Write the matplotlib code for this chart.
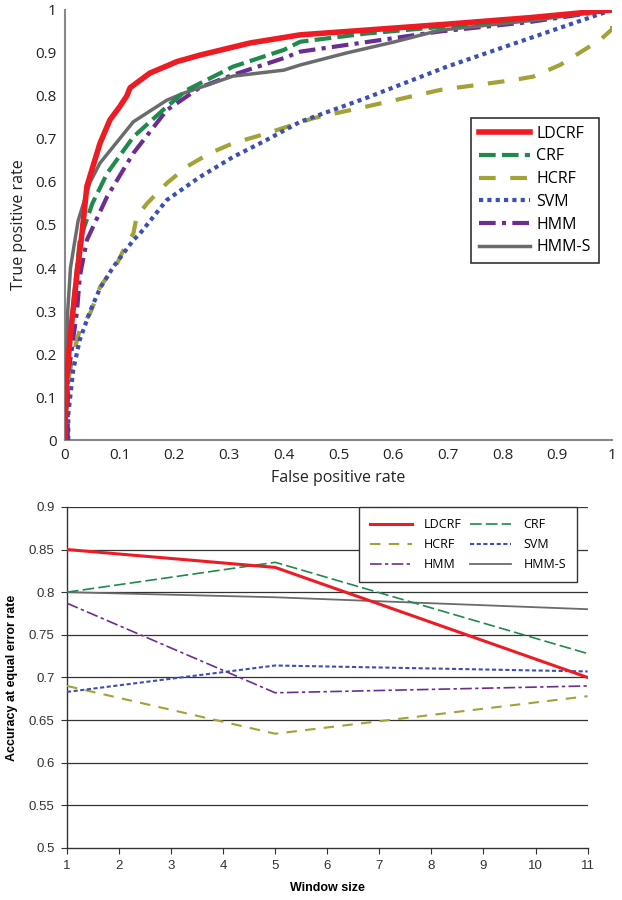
import numpy as np
import matplotlib
matplotlib.use("Agg")
from matplotlib import pyplot as plt
from matplotlib.ticker import MultipleLocator

# ROC curves (false positive rate, true positive rate)
ldcrf_fpr = [0, 0.0, 0.003, 0.009, 0.022, 0.031, 0.04, 0.064, 0.082, 0.1, 0.113, 0.119, 0.155, 0.205, 0.247, 0.338, 0.43, 0.55, 0.7, 0.85, 1.0]
ldcrf_tpr = [0, 0.02, 0.14, 0.233, 0.388, 0.48, 0.59, 0.69, 0.744, 0.775, 0.8, 0.819, 0.853, 0.88, 0.895, 0.923, 0.942, 0.953, 0.967, 0.982, 1.0]

crf_fpr = [0, 0.003, 0.01, 0.027, 0.05, 0.077, 0.125, 0.186, 0.223, 0.307, 0.4, 0.43, 0.55, 0.7, 0.85, 1.0]
crf_tpr = [0, 0.12, 0.25, 0.465, 0.55, 0.62, 0.705, 0.775, 0.814, 0.868, 0.907, 0.926, 0.945, 0.962, 0.98, 1.0]

hcrf_fpr = [0, 0.003, 0.006, 0.015, 0.027, 0.046, 0.058, 0.064, 0.095, 0.113, 0.125, 0.131, 0.15, 0.186, 0.223, 0.265, 0.307, 0.369, 0.453, 0.55, 0.686, 0.82, 0.856, 0.905, 0.978, 1.0, 1.0]
hcrf_tpr = [0, 0.07, 0.14, 0.2, 0.256, 0.295, 0.333, 0.356, 0.41, 0.458, 0.48, 0.52, 0.55, 0.597, 0.636, 0.667, 0.69, 0.713, 0.748, 0.775, 0.814, 0.837, 0.845, 0.872, 0.93, 0.955, 1.0]

svm_fpr = [0.006, 0.006, 0.015, 0.027, 0.046, 0.064, 0.088, 0.125, 0.137, 0.186, 0.247, 0.307, 0.369, 0.43, 0.55, 0.698, 0.856, 1.0]
svm_tpr = [0, 0.06, 0.163, 0.233, 0.3, 0.353, 0.402, 0.465, 0.48, 0.558, 0.612, 0.658, 0.698, 0.74, 0.795, 0.868, 0.937, 1.0]

hmm_fpr = [0.005, 0.005, 0.009, 0.022, 0.027, 0.04, 0.077, 0.125, 0.186, 0.247, 0.307, 0.4, 0.43, 0.55, 0.686, 0.85, 1.0]
hmm_tpr = [0, 0.15, 0.18, 0.3, 0.38, 0.465, 0.566, 0.667, 0.767, 0.82, 0.849, 0.888, 0.903, 0.925, 0.95, 0.972, 1.0]

hmms_fpr = [0, 0.002, 0.005, 0.01, 0.015, 0.024, 0.046, 0.064, 0.125, 0.186, 0.216, 0.307, 0.4, 0.43, 0.515, 0.6, 0.686, 0.85, 1.0]
hmms_tpr = [0, 0.15, 0.3, 0.4, 0.44, 0.51, 0.6, 0.644, 0.74, 0.79, 0.806, 0.846, 0.86, 0.872, 0.9, 0.925, 0.953, 0.975, 1.0]

# accuracy at equal error rate vs window size
window = [1, 5, 11]
acc_ldcrf = [0.85, 0.829, 0.70]
acc_crf = [0.80, 0.835, 0.728]
acc_hcrf = [0.69, 0.634, 0.678]
acc_svm = [0.683, 0.714, 0.707]
acc_hmm = [0.787, 0.682, 0.69]
acc_hmms = [0.80, 0.794, 0.78]

RED = "#ED1C24"
GREEN = "#1F8A4C"
OLIVE = "#A3A236"
BLUE = "#3C4FB3"
PURPLE = "#6B2D92"
GRAY = "#6A6B6D"

fig = plt.figure(figsize=(6.22, 9), dpi=100)

# ---- top: ROC ----
plt.rcParams['font.family'] = ['Open Sans', 'DejaVu Sans']
ax = fig.add_axes([0.1045, 0.511, 0.8795, 0.478])
ax.plot(ldcrf_fpr, ldcrf_tpr, color=RED, lw=4, label="LDCRF", zorder=6)
ax.plot(crf_fpr, crf_tpr, color=GREEN, lw=3, dashes=(4, 1.5), label="CRF", zorder=5)
ax.plot(hcrf_fpr, hcrf_tpr, color=OLIVE, lw=3, dashes=(4, 3.5), label="HCRF", zorder=3)
ax.plot(svm_fpr, svm_tpr, color=BLUE, lw=3, dashes=(1, 1), label="SVM", zorder=4)
ax.plot(hmm_fpr, hmm_tpr, color=PURPLE, lw=3, dashes=(4, 1.5, 1, 1.5), label="HMM", zorder=4)
ax.plot(hmms_fpr, hmms_tpr, color=GRAY, lw=2.5, label="HMM-S", zorder=4)
ax.set_xlim(0, 1)
ax.set_ylim(0, 1)
for s in ["top", "right"]:
    ax.spines[s].set_visible(False)
for s in ["left", "bottom"]:
    ax.spines[s].set_color("#888888")
    ax.spines[s].set_linewidth(1.5)
ax.xaxis.set_major_locator(MultipleLocator(0.1))
ax.yaxis.set_major_locator(MultipleLocator(0.1))
ax.xaxis.set_minor_locator(MultipleLocator(0.2))
ax.yaxis.set_minor_locator(MultipleLocator(0.2))
ax.set_xticklabels([f"{v:g}" for v in ax.get_xticks()])
ax.set_yticklabels([f"{v:g}" for v in ax.get_yticks()])
ax.tick_params(which="major", length=0, labelsize=11, colors="#222222", pad=6)
ax.tick_params(which="minor", direction="in", length=4, color="#888888")
ax.set_xlabel("False positive rate", fontsize=11.5, color="#222222", labelpad=5)
ax.set_ylabel("True positive rate", fontsize=11.5, color="#222222", labelpad=6)
leg = ax.legend(loc="upper right", bbox_to_anchor=(0.99, 0.768), fontsize=11.5,
                frameon=True, fancybox=False, edgecolor="black", handlelength=3.2,
                handletextpad=0.4, labelspacing=0.42, borderpad=0.5)
leg.get_frame().set_linewidth(1.2)

# ---- bottom: accuracy vs window size ----
ax2 = fig.add_axes([0.1077, 0.0578, 0.837, 0.379])
bfont = ['Liberation Sans', 'DejaVu Sans']
for yv in np.arange(0.55, 0.901, 0.05):
    ax2.axhline(yv, color="#333333", lw=0.9, zorder=1)
ax2.plot(window, acc_ldcrf, color=RED, lw=2.2, label="LDCRF", zorder=6)
ax2.plot(window, acc_crf, color=GREEN, lw=1.2, dashes=(7, 2.5), label="CRF", zorder=5)
ax2.plot(window, acc_hcrf, color=OLIVE, lw=1.5, dashes=(5, 4), label="HCRF", zorder=4)
ax2.plot(window, acc_svm, color=BLUE, lw=1.5, dashes=(2, 1.2), label="SVM", zorder=4)
ax2.plot(window, acc_hmm, color=PURPLE, lw=1.2, dashes=(7, 2, 2, 2), label="HMM", zorder=4)
ax2.plot(window, acc_hmms, color=GRAY, lw=1.3, label="HMM-S", zorder=4)
ax2.set_xlim(1, 11)
ax2.set_ylim(0.5, 0.9)
ax2.set_xticks(range(1, 12))
ax2.set_yticks(np.arange(0.5, 0.901, 0.05))
ax2.set_yticklabels([f"{v:g}" for v in np.round(np.arange(0.5, 0.901, 0.05), 2)])
for s in ["top", "right"]:
    ax2.spines[s].set_visible(False)
for s in ["left", "bottom"]:
    ax2.spines[s].set_color("#333333")
    ax2.spines[s].set_linewidth(1.0)
ax2.tick_params(length=4, labelsize=9.5, colors="#333333", pad=5)
for lab in ax2.get_xticklabels() + ax2.get_yticklabels():
    lab.set_family(bfont)
ax2.set_xlabel("Window size", fontsize=9, fontweight="bold", family=bfont, labelpad=7)
ax2.set_ylabel("Accuracy at equal error rate", fontsize=9, fontweight="bold", family=bfont, labelpad=8)
h, l = ax2.get_legend_handles_labels()
order = [0, 2, 4, 1, 3, 5]
leg2 = ax2.legend([h[i] for i in order], [l[i] for i in order], ncol=2,
                  loc="upper right", bbox_to_anchor=(0.98, 1.0), borderaxespad=0,
                  fontsize=9, frameon=True, fancybox=False, edgecolor="#333333",
                  framealpha=1, handlelength=3.3, handletextpad=1.0, columnspacing=0.6,
                  labelspacing=0.55, borderpad=0.9)
leg2.get_frame().set_linewidth(1.0)
leg2.set_zorder(10)

fig.savefig("out.png", dpi=100)
